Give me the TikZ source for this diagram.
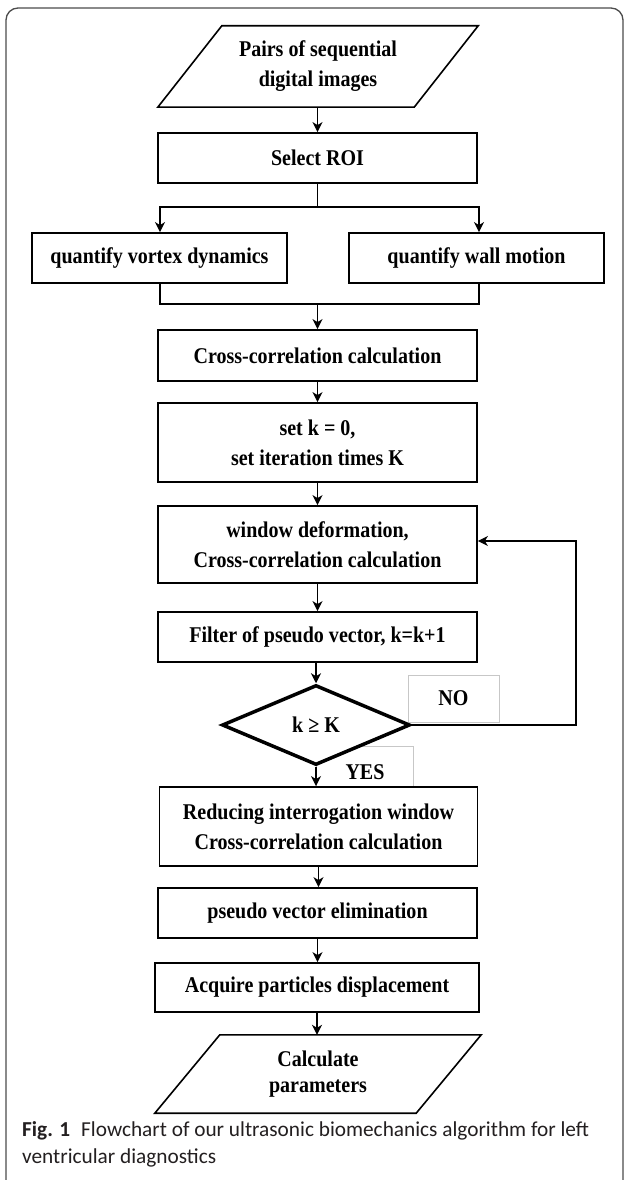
\documentclass[tikz,border=0pt]{standalone}
\usepackage{fontspec}
\setmainfont{Liberation Serif}
\newfontfamily\boxfont[FakeStretch=0.89]{Liberation Serif}
\newfontfamily\capfont{Carlito}
\usetikzlibrary{shapes.geometric,arrows.meta}
\newcommand\ftext{\boxfont\bfseries\fontsize{22.5}{30}\selectfont}
\begin{document}
\begin{tikzpicture}[x=1pt,y=-1pt,
  box/.style={draw, line width=1.8pt, fill=white, inner sep=0pt, align=center, font=\ftext},
  plain/.style={inner sep=0pt, align=center, font=\ftext},
  arr/.style={-{Stealth[length=10pt,width=10pt,inset=3pt]}, line width=1.6pt},
  ln/.style={line width=1.6pt},
  lbl/.style={draw=black!22, line width=0.8pt, inner sep=0pt, font=\ftext}]
\useasboundingbox (0,0) rectangle (624,1180);
\clip (0,0) rectangle (624,1180);
\fill[white] (0,0) rectangle (624,1180);
\draw[draw=black!70, line width=1.3pt, rounded corners=12pt] (6,8) rectangle (623,1200);

% input parallelogram
\node[plain, minimum width=256pt, minimum height=81pt] (src) at (318,66.5) {Pairs of sequential\\digital images};
\draw[ln] ([xshift=32pt]src.north west) -- ([xshift=32pt]src.north east) -- ([xshift=-32pt]src.south east) -- ([xshift=-32pt]src.south west) -- cycle;

\node[box, minimum width=319pt, minimum height=50pt] (roi) at (317.5,158) {Select ROI};
\node[box, minimum width=255pt, minimum height=50pt] (vort) at (159.5,258) {quantify vortex dynamics};
\node[box, minimum width=255pt, minimum height=50pt] (wall) at (476.5,258) {quantify wall motion};
\node[box, minimum width=319pt, minimum height=51pt] (cc) at (317.5,355.5) {Cross-correlation calculation};
\node[box, minimum width=319pt, minimum height=79pt] (setk) at (317.5,442.5) {set k = 0,\\set iteration times K};
\node[box, minimum width=319pt, minimum height=77pt] (wd) at (317.5,544.5) {window deformation,\\Cross-correlation calculation};
\node[box, minimum width=319pt, minimum height=50pt] (filt) at (317.5,637) {Filter of pseudo vector, k=k+1};

\node[lbl, minimum width=91pt, minimum height=47pt] (no) at (453.5,698.5) {NO};
\node[lbl, minimum width=97pt, minimum height=41pt] (yesbox) at (364.5,766.5) {};
\node[diamond, draw, line width=3.5pt, fill=white, minimum width=188pt, minimum height=80pt, inner sep=0pt, font=\ftext] (dia) at (316,725) {k ≥ K};
\node[plain] (yes) at (365,772) {YES};

\node[box, minimum width=318pt, minimum height=79pt] (red) at (318.5,826.5) {Reducing interrogation window\\Cross-correlation calculation};
\node[box, minimum width=319pt, minimum height=50pt] (pve) at (317.5,913) {pseudo vector elimination};
\node[box, minimum width=324pt, minimum height=49pt] (acq) at (317,987.5) {Acquire particles displacement};

% output parallelogram
\node[plain, minimum width=261pt, minimum height=78pt] (out) at (318,1074) {Calculate\\[-4pt]parameters};
\draw[ln] ([xshift=32.5pt]out.north west) -- ([xshift=32.5pt]out.north east) -- ([xshift=-32.5pt]out.south east) -- ([xshift=-32.5pt]out.south west) -- cycle;

% connectors
\coordinate (bj) at (317.5,207);
\coordinate (mj) at (317.5,304);
\coordinate (lp) at (576,541);
\draw[arr] (roi.north |- src.south) -- (roi.north);
\draw[ln] (roi.south) -- (bj);
\draw[arr] (bj) -| ([xshift=0.5pt]vort.north);
\draw[arr] (bj) -| ([xshift=2.5pt]wall.north);
\draw[ln] ([xshift=0.5pt]vort.south) |- (mj) -| ([xshift=2.5pt]wall.south);
\draw[arr] (mj) -- (cc.north);
\draw[arr] (cc.south) -- (setk.north);
\draw[arr] (setk.south) -- (wd.north);
\draw[arr] (wd.south) -- (filt.north);
\draw[arr] (dia.north |- filt.south) -- (dia.north);
\draw[arr] (dia.south) -- (dia.south |- red.north);
\draw[arr] (red.south) -- (red.south |- pve.north);
\draw[arr] (pve.south) -- (pve.south |- acq.north);
\draw[arr] (acq.south) -- (acq.south |- out.north);
\draw[arr, line width=1.4pt] (dia.east) -| (lp) -- (wd.east |- lp);

% caption
\definecolor{captxt}{HTML}{231F20}
\node[anchor=west, inner sep=0pt, text=captxt, font=\capfont\fontsize{21.3}{25}\selectfont] (cap1) at (22,1131) {\textbf{Fig. 1}\hspace{11pt}Flowchart of our ultrasonic biomechanics algorithm for left};
\node[anchor=west, inner sep=0pt, text=captxt, font=\capfont\fontsize{21.3}{25}\selectfont] (cap2) at (22,1158) {ventricular diagnostics};
\end{tikzpicture}
\end{document}
